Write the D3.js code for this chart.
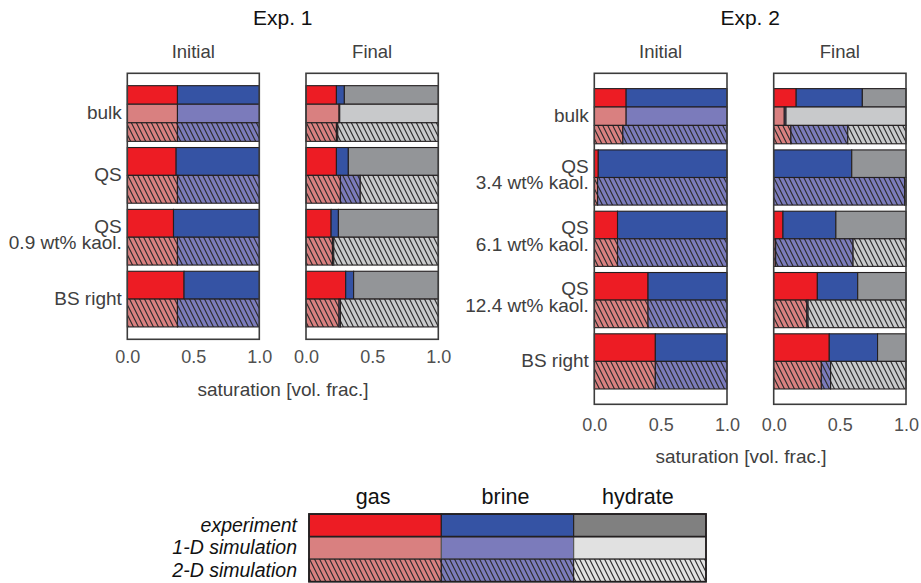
<!DOCTYPE html>
<html>
<head>
<meta charset="utf-8">
<script src="https://cdn.jsdelivr.net/npm/d3@7"></script>
<style>
  body { margin: 0; background: #fff; }
  svg { display: block; font-family: "Liberation Sans", Arial, Helvetica, sans-serif; }
</style>
</head>
<body>
<svg id="chart" width="921" height="583"></svg>
<script>
// Phase saturations (volume fractions), ordered [gas, brine, hydrate].
// null marks a sample that has no run of that kind.
const components = ["gas", "brine", "hydrate"];
const sources = ["experiment", "1-D simulation", "2-D simulation"];

const exp1Categories = [["bulk"], ["QS"], ["QS", "0.9 wt% kaol."], ["BS right"]];
const exp2Categories = [["bulk"], ["QS", "3.4 wt% kaol."], ["QS", "6.1 wt% kaol."], ["QS", "12.4 wt% kaol."], ["BS right"]];

const exp1InitialExperiment = [[0.38, 0.62, 0], [0.37, 0.63, 0], [0.35, 0.65, 0], [0.43, 0.57, 0]];
const exp1Initial1D         = [[0.38, 0.62, 0], null, null, null];
const exp1Initial2D         = [[0.38, 0.62, 0], [0.38, 0.62, 0], [0.38, 0.62, 0], [0.38, 0.62, 0]];
const exp1FinalExperiment   = [[0.23, 0.06, 0.71], [0.23, 0.09, 0.68], [0.19, 0.055, 0.755], [0.30, 0.06, 0.64]];
const exp1Final1D           = [[0.25, 0.005, 0.745], null, null, null];
const exp1Final2D           = [[0.23, 0.01, 0.76], [0.26, 0.15, 0.59], [0.20, 0.01, 0.79], [0.25, 0.01, 0.74]];

const exp2InitialExperiment = [[0.24, 0.76, 0], [0.03, 0.97, 0], [0.175, 0.825, 0], [0.405, 0.595, 0], [0.46, 0.54, 0]];
const exp2Initial1D         = [[0.24, 0.76, 0], null, null, null, null];
const exp2Initial2D         = [[0.215, 0.785, 0], [0.025, 0.975, 0], [0.175, 0.825, 0], [0.405, 0.595, 0], [0.46, 0.54, 0]];
const exp2FinalExperiment   = [[0.17, 0.50, 0.33], [0, 0.59, 0.41], [0.07, 0.40, 0.53], [0.33, 0.305, 0.365], [0.42, 0.365, 0.215]];
const exp2Final1D           = [[0.08, 0.013, 0.907], null, null, null, null];
const exp2Final2D           = [[0.13, 0.43, 0.44], [0, 0.99, 0.01], [0.015, 0.585, 0.40], [0.25, 0.01, 0.74], [0.36, 0.07, 0.57]];

const xTicks = [0, 0.5, 1];
const panelTitles = ["Initial", "Final"];
const experimentTitles = ["Exp. 1", "Exp. 2"];
const xAxisLabel = "saturation [vol. frac.]";

// fill colours
const experimentFill = ["#ed1c24", "#3553a4", "#939598"];
const simulationFill = ["#d98080", "#7b7bbb", "#c8c9cb"];
const legendExperimentFill = ["#ed1c24", "#3553a4", "#808080"];
const legendSimulationFill = ["#d98080", "#7b7bbb", "#e1e1e1"];

const svg = d3.select("#chart");
const defs = svg.append("defs");
const edge = "#231f20";

// diagonal "\\" hatching over a base colour
function hatchPattern(id, color) {
  const p = defs.append("pattern")
    .attr("id", id)
    .attr("patternUnits", "userSpaceOnUse")
    .attr("width", 5).attr("height", 10);
  p.append("rect").attr("width", 5).attr("height", 10).attr("fill", color);
  p.append("path")
    .attr("d", "M-0.5,-1L5.5,11M4.5,-1L5.5,1M-0.5,9L0.5,11")
    .attr("stroke", "#2a2a2a").attr("stroke-width", 1.1).attr("fill", "none");
  return `url(#${id})`;
}
const hatchPanel = simulationFill.map((c, i) => hatchPattern("hp" + i, c));
const hatchLegend = legendSimulationFill.map((c, i) => hatchPattern("hl" + i, c));

const experiments = [
  {
    title: experimentTitles[0], categories: exp1Categories,
    panels: [
      { title: panelTitles[0], rows: [exp1InitialExperiment, exp1Initial1D, exp1Initial2D], range: [127.3, 259.3] },
      { title: panelTitles[1], rows: [exp1FinalExperiment, exp1Final1D, exp1Final2D], range: [306, 438.3] }
    ],
    top: 73.3, bottom: 339.3, yDomain: [-0.65, 3.65], tickPad: 11.2, labelY: 396, labelX: 283
  },
  {
    title: experimentTitles[1], categories: exp2Categories,
    panels: [
      { title: panelTitles[0], rows: [exp2InitialExperiment, exp2Initial1D, exp2Initial2D], range: [594.3, 727] },
      { title: panelTitles[1], rows: [exp2FinalExperiment, exp2Final1D, exp2Final2D], range: [773.7, 906] }
    ],
    top: 73.3, bottom: 404.3, yDomain: [-0.7, 4.7], tickPad: 13.9, labelY: 463, labelX: 741
  }
];

const groupHeight = 0.9;

experiments.forEach(ex => {
  const y = d3.scaleLinear().domain(ex.yDomain).range([ex.top, ex.bottom]);
  const eg = svg.append("g");

  // experiment title, centred over both panels
  const cx = (ex.panels[0].range[0] + ex.panels[1].range[1]) / 2;
  eg.append("text").attr("x", cx).attr("y", 25)
    .attr("text-anchor", "middle").attr("font-size", 21).attr("fill", "#111")
    .text(ex.title);

  // category labels on the left of the first panel
  const labelX = ex.panels[0].range[0] - 5.5;
  const labelG = eg.append("g").attr("fill", "#404040").attr("font-size", 19).attr("text-anchor", "end");
  ex.categories.forEach((lines, i) => {
    const t = labelG.append("text").attr("x", labelX);
    if (lines.length === 1) {
      t.append("tspan").attr("y", y(i) + 5.8).text(lines[0]);
    } else {
      t.append("tspan").attr("y", y(i) - 4.6).text(lines[0]);
      t.append("tspan").attr("x", labelX).attr("y", y(i) + 11.8).text(lines[1]);
    }
  });

  ex.panels.forEach(panel => {
    const x = d3.scaleLinear().domain([0, 1]).range(panel.range);
    const pg = eg.append("g");

    pg.append("text").attr("x", (panel.range[0] + panel.range[1]) / 2).attr("y", 58.3)
      .attr("text-anchor", "middle").attr("font-size", 18.5).attr("fill", "#404040")
      .text(panel.title);

    ex.categories.forEach((_, i) => {
      // rows present for this sample: experiment, then 1-D and 2-D simulation if available
      const rows = panel.rows
        .map((vals, s) => ({ vals: vals[i], source: s }))
        .filter(r => r.vals !== null);
      const rowH = groupHeight / rows.length;
      rows.forEach((r, k) => {
        const y0 = i - groupHeight / 2 + k * rowH;
        const ends = d3.cumsum(r.vals);
        r.vals.forEach((v, c) => {
          if (v <= 0) return;
          const start = c === 0 ? 0 : ends[c - 1];
          let fill;
          if (r.source === 0) fill = experimentFill[c];
          else if (r.source === 1) fill = simulationFill[c];
          else fill = hatchPanel[c];
          pg.append("rect")
            .attr("x", x(start)).attr("width", x(start + v) - x(start))
            .attr("y", y(y0)).attr("height", y(y0 + rowH) - y(y0))
            .attr("fill", fill).attr("stroke", edge).attr("stroke-width", 1.1);
        });
      });
    });

    // panel frame
    pg.append("rect")
      .attr("x", panel.range[0]).attr("y", ex.top)
      .attr("width", panel.range[1] - panel.range[0]).attr("height", ex.bottom - ex.top)
      .attr("fill", "none").attr("stroke", "#3c3c3c").attr("stroke-width", 1.6);

    const axis = pg.append("g").attr("transform", `translate(0,${ex.bottom})`)
      .call(d3.axisBottom(x).tickValues(xTicks).tickFormat(d3.format(".1f")).tickSize(0).tickPadding(ex.tickPad));
    axis.select(".domain").remove();
    axis.selectAll("text").attr("font-size", 18).attr("fill", "#505050")
      .attr("font-family", "'Liberation Sans', Arial, sans-serif");
  });

  eg.append("text").attr("x", ex.labelX).attr("y", ex.labelY)
    .attr("text-anchor", "middle").attr("font-size", 19).attr("fill", "#404040")
    .text(xAxisLabel);
});

// legend table
const lx = d3.scaleBand().domain(components).range([309, 706]);
const ly = d3.scaleBand().domain(sources).range([514, 581.7]);
const lg = svg.append("g");
components.forEach((comp, c) => {
  lg.append("text").attr("x", lx(comp) + lx.bandwidth() / 2 - 2).attr("y", 504)
    .attr("text-anchor", "middle").attr("font-size", 21.5).attr("fill", "#111").text(comp);
  sources.forEach((src, s) => {
    const fill = s === 0 ? legendExperimentFill[c] : s === 1 ? legendSimulationFill[c] : hatchLegend[c];
    lg.append("rect")
      .attr("x", lx(comp)).attr("y", ly(src))
      .attr("width", lx.bandwidth()).attr("height", ly.bandwidth())
      .attr("fill", fill).attr("stroke", s === 1 ? "#555" : edge).attr("stroke-width", 1.1);
  });
});
sources.forEach(src => {
  lg.append("text").attr("x", 297).attr("y", ly(src) + ly.bandwidth() / 2 + 6.5)
    .attr("text-anchor", "end").attr("font-size", 19.5).attr("font-style", "italic")
    .attr("fill", "#111").text(src);
});
lg.append("rect").attr("x", 309).attr("y", 514).attr("width", 397).attr("height", 67.7)
  .attr("fill", "none").attr("stroke", edge).attr("stroke-width", 1.8);
lg.append("line").attr("x1", 309).attr("x2", 706).attr("y1", ly(sources[1])).attr("y2", ly(sources[1]))
  .attr("stroke", edge).attr("stroke-width", 1.8);
</script>
</body>
</html>
